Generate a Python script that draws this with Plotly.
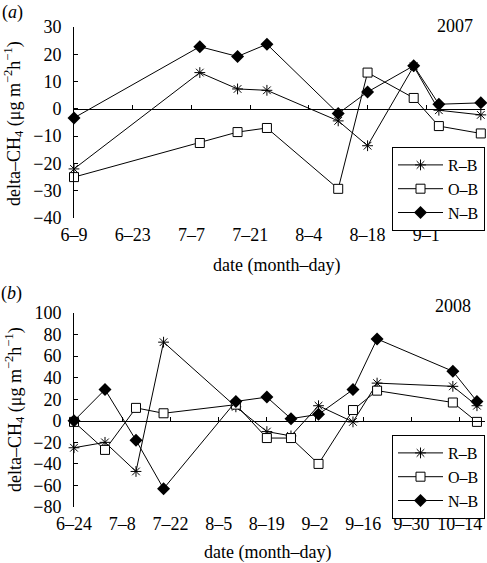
import plotly.graph_objects as go

# ---------------- data ----------------
dates_a = ["2007-06-09", "2007-07-09", "2007-07-18", "2007-07-25", "2007-08-11",
           "2007-08-18", "2007-08-29", "2007-09-04", "2007-09-14"]
rb_a = [-22, 13.3, 7.3, 6.8, -4.4, -13.5, 15.6, -0.5, -2.2]
ob_a = [-25, -12.5, -8.5, -7, -29.3, 13.3, 4, -6.3, -9]
nb_a = [-3.3, 22.8, 19.2, 23.7, -1.7, 6.2, 15.8, 1.7, 2.2]

dates_b = ["2008-06-24", "2008-07-03", "2008-07-12", "2008-07-20", "2008-08-10",
           "2008-08-19", "2008-08-26", "2008-09-03", "2008-09-13", "2008-09-20",
           "2008-10-12", "2008-10-19"]
rb_b = [-25, -20, -47, 73, 13, -10, -14, 14, -1, 35, 32, 14]
ob_b = [-1, -27, 12, 7, 15, -16, -16, -40, 10, 28, 17, -1]
nb_b = [0, 29, -18, -63, 18, 22, 2, 6, 29, 76, 46, 18]

series_names = ["R\u2013B", "O\u2013B", "N\u2013B"]
xrange_a = ["2007-06-09", "2007-09-15"]
xrange_b = ["2008-06-24", "2008-10-21 08:00"]
yrange_a = [-40, 30]
yrange_b = [-80, 100]
year_labels = ["2007", "2008"]
panel_labels = ["(<i>a</i>)", "(<i>b</i>)"]
xtitle = "date (month\u2013day)"
ytitle = "delta\u2013CH<sub>4</sub> (\u03bcg m<sup>\u22122</sup>h<sup>\u22121</sup>)"

FONT = "Liberation Serif"
FS = 18
DAY14 = 14 * 86400000

styles = [
    dict(symbol="asterisk-open", size=9, color="black", line=dict(color="black", width=1)),
    dict(symbol="square", size=9, color="white", line=dict(color="black", width=1)),
    dict(symbol="diamond", size=10, color="black", line=dict(color="black", width=0)),
]

fig = go.Figure()

dom_a = [0.602, 1.0]
dom_b = [0.0, 0.404]


def zero_pos(dom, yr):
    return dom[0] + (0 - yr[0]) / (yr[1] - yr[0]) * (dom[1] - dom[0])


for panel, (dates, vals, xa, ya, leg) in enumerate([
        (dates_a, [rb_a, ob_a, nb_a], "x", "y", "legend"),
        (dates_b, [rb_b, ob_b, nb_b], "x3", "y2", "legend2")]):
    for name, v, st in zip(series_names, vals, styles):
        fig.add_trace(go.Scatter(
            x=dates, y=v, name=name, mode="lines+markers",
            line=dict(color="black", width=1),
            marker=st, xaxis=xa, yaxis=ya, legend=leg, cliponaxis=False))

# dummy traces so the zero-line axes are drawn
fig.add_trace(go.Scatter(x=[], y=[], xaxis="x2", yaxis="y", showlegend=False))
fig.add_trace(go.Scatter(x=[], y=[], xaxis="x4", yaxis="y2", showlegend=False))

tickfont = dict(family=FONT, size=FS, color="black")

common_x = dict(showgrid=False, zeroline=False, tickformat="%-m\u2013%-d",
                dtick=DAY14, type="date", tickfont=tickfont)

legend_common = dict(x=1.0, xanchor="right", yanchor="top", bordercolor="black",
                     borderwidth=1, bgcolor="white", itemwidth=45,
                     font=dict(family=FONT, size=16, color="black"), tracegroupgap=0)

fig.update_layout(
    width=487, height=563,
    margin=dict(l=74, r=2, t=27, b=56),
    paper_bgcolor="white", plot_bgcolor="white",
    font=dict(family=FONT, size=FS, color="black"),
    xaxis=dict(**common_x, anchor="y", domain=[0, 1], range=xrange_a, tick0=xrange_a[0],
               showline=False, ticks="", ticklabelstandoff=4),
    xaxis2=dict(**common_x, overlaying="x", anchor="free",
                position=zero_pos(dom_a, yrange_a), range=xrange_a, tick0=xrange_a[0],
                showline=True, linecolor="black", linewidth=1, ticks="inside",
                ticklen=4, tickcolor="black", showticklabels=False),
    yaxis=dict(domain=dom_a, range=yrange_a, dtick=10, anchor="x", showgrid=False,
               zeroline=False, showline=True, linecolor="black", linewidth=1,
               ticks="inside", ticklen=4, tickcolor="black", tickfont=tickfont,
               ticklabelstandoff=8),
    xaxis3=dict(**common_x, anchor="y2", domain=[0, 1], range=xrange_b, tick0=xrange_b[0],
                showline=False, ticks="", ticklabelstandoff=4),
    xaxis4=dict(**common_x, overlaying="x3", anchor="free",
                position=zero_pos(dom_b, yrange_b), range=xrange_b, tick0=xrange_b[0],
                showline=True, linecolor="black", linewidth=1, ticks="inside",
                ticklen=4, tickcolor="black", showticklabels=False),
    yaxis2=dict(domain=dom_b, range=yrange_b, dtick=20, anchor="x3", showgrid=False,
                zeroline=False, showline=True, linecolor="black", linewidth=1,
                ticks="inside", ticklen=4, tickcolor="black", tickfont=tickfont,
                ticklabelstandoff=8),
    legend=dict(**legend_common, y=0.75),
    legend2=dict(**legend_common, y=0.15),
    showlegend=True,
)


# annotation positions given in window pixels (plot area spans x 74-485, y 27-507)
def px_x(p):
    return (p - 74) / 411.0


def px_y(p):
    return (507 - p) / 480.0


ann = [
    (panel_labels[0], 13, 12, 0),
    (panel_labels[1], 12, 293, 0),
    (year_labels[0], 455, 26, 0),
    (year_labels[1], 453, 306, 0),
    (xtitle, 276, 265, 0),
    (xtitle, 267, 552, 0),
    (ytitle, 14, 124, -90),
    (ytitle, 14, 410, -90),
]
for text, x, y, ang in ann:
    fig.add_annotation(text=text, x=px_x(x), y=px_y(y), xref="paper", yref="paper",
                       xanchor="center", yanchor="middle", showarrow=False,
                       textangle=ang, font=dict(family=FONT, size=FS, color="black"))

# remove the default page margin so the figure fills the window exactly
fig.write_html("out.html", config={"displayModeBar": False},
               post_script="document.body.style.margin='0';document.body.style.overflow='hidden';")
